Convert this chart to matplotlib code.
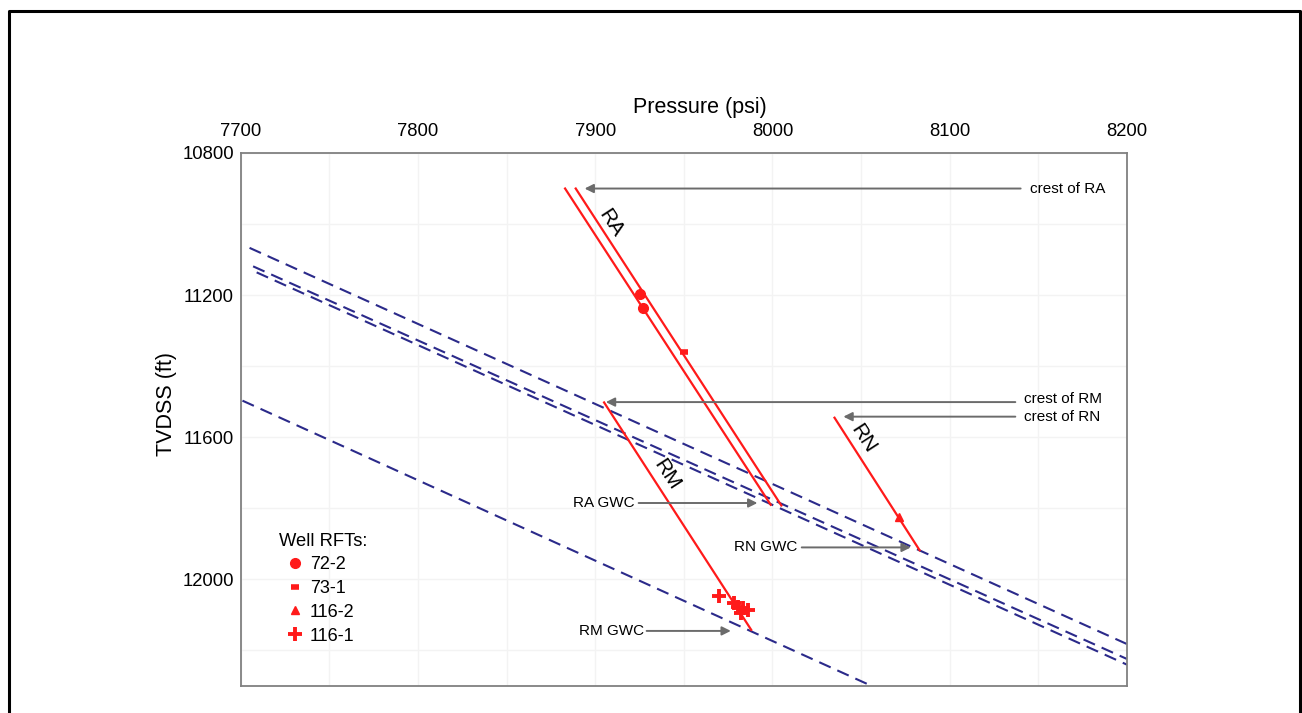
import matplotlib
matplotlib.use("Agg")
import matplotlib.pyplot as plt
from matplotlib.lines import Line2D
from matplotlib.ticker import MultipleLocator

plt.rcParams['font.family'] = ['Liberation Sans', 'DejaVu Sans']

# ---- data (pressure psi, depth ft TVDSS) ----
ra1_p = [7883, 7999]
ra1_d = [10900, 11790]
ra2_p = [7889, 8005]
ra2_d = [10900, 11792]
rm_p = [7905, 7988]
rm_d = [11502, 12142]
rn_p = [8035, 8083]
rn_d = [11545, 11918]

# water gradient lines
wa_p = [7705, 8200]
wa_d = [11067, 12182]
wb_p = [7707, 8200]
wb_d = [11119, 12224]
wc_p = [7709, 8200]
wc_d = [11136, 12240]
wd_p = [7701, 8056]
wd_d = [11497, 12300]

# well RFTs
w72_p = [7925, 7927]
w72_d = [11198, 11235]
w73_p = [7950]
w73_d = [11360]
w1162_p = [8071.5]
w1162_d = [11824]
w1161_p = [7970, 7978.5, 7980.7, 7983.5, 7986, 7982.2]
w1161_d = [12048, 12067, 12077, 12081, 12086, 12095]

# annotations
crest_labels = ["crest of RA", "crest of RM", "crest of RN"]
crest_text_p = [8145, 8142, 8142]
crest_text_d = [10900, 11493, 11542]
crest_tail_p = [8140, 8137, 8137]
crest_head_p = [7894, 7906, 8040]
crest_arrow_d = [10900, 11501, 11542]

gwc_labels = ["RA GWC", "RN GWC", "RM GWC"]
gwc_text_p = [7922.5, 8014, 7927.5]
gwc_tail_p = [7924.5, 8016.5, 7929]
gwc_head_p = [7991.5, 8078, 7976.5]
gwc_d = [11785, 11910, 12145]

zone_labels = ["RA", "RM", "RN"]
zone_p = [7908.7, 7940.5, 8051.2]
zone_d = [10997, 11705, 11603]

red = '#ff1a1a'
navy = '#2b2a8a'
arrow_gray = '#6b6b6b'

fig = plt.figure(figsize=(13.02, 7.13), dpi=100)
ax = fig.add_axes([0.18487, 0.03787, 0.68072, 0.74755])

ax.set_xlim(7700, 8200)
ax.set_ylim(12300, 10800)
ax.xaxis.set_major_locator(MultipleLocator(100))
ax.xaxis.set_minor_locator(MultipleLocator(50))
ax.yaxis.set_major_locator(MultipleLocator(400))
ax.yaxis.set_minor_locator(MultipleLocator(200))
ax.grid(True, which='both', color='#f3f3f3', lw=1.0)
ax.set_axisbelow(True)
ax.xaxis.tick_top()
ax.xaxis.set_label_position('top')
ax.tick_params(which='both', length=0)
ax.tick_params(axis='x', labelsize=13.3, pad=9)
ax.tick_params(axis='y', labelsize=13.3, pad=4.8)
for s in ax.spines.values():
    s.set_color('#808080')
    s.set_linewidth(1.3)

ax.set_xlabel('Pressure (psi)', fontsize=15.5)
ax.xaxis.set_label_coords(0.518, 1.075)
ax.set_ylabel('TVDSS (ft)', fontsize=15.5)
ax.yaxis.set_label_coords(-0.072, 0.53)

dash = (0, (6, 3.5))
for xp, yd in [(wa_p, wa_d), (wb_p, wb_d), (wc_p, wc_d), (wd_p, wd_d)]:
    ax.plot(xp, yd, color=navy, lw=1.5, linestyle=dash)

for xp, yd in [(ra1_p, ra1_d), (ra2_p, ra2_d), (rm_p, rm_d), (rn_p, rn_d)]:
    ax.plot(xp, yd, color=red, lw=1.6)

h1, = ax.plot(w72_p, w72_d, 'o', color=red, ms=7, ls='none', label='72-2')
h2, = ax.plot(w73_p, w73_d, '_', color=red, ms=6, mew=4, ls='none', label='73-1')
h3, = ax.plot(w1162_p, w1162_d, '^', color=red, ms=6, ls='none', label='116-2')
h4, = ax.plot(w1161_p, w1161_d, '+', color=red, ms=10, mew=2.8, ls='none', label='116-1')

arrow_kw = dict(arrowstyle='-|>', color=arrow_gray, lw=1.4, mutation_scale=13,
                shrinkA=0, shrinkB=0)
for lab, tp, td, tail, head, ad in zip(crest_labels, crest_text_p, crest_text_d,
                                       crest_tail_p, crest_head_p, crest_arrow_d):
    ax.annotate('', xy=(head, ad), xytext=(tail, ad), arrowprops=arrow_kw)
    ax.text(tp, td, lab, fontsize=11, ha='left', va='center')

for lab, tp, tail, head, ad in zip(gwc_labels, gwc_text_p, gwc_tail_p, gwc_head_p, gwc_d):
    ax.annotate('', xy=(head, ad), xytext=(tail, ad), arrowprops=arrow_kw)
    ax.text(tp, ad, lab, fontsize=11, ha='right', va='center')

for lab, zp, zd in zip(zone_labels, zone_p, zone_d):
    ax.text(zp, zd, lab, fontsize=15, rotation=-57, ha='center', va='center',
            rotation_mode='anchor')

fig.text(279 / 1302, 1 - 541 / 713, 'Well RFTs:', fontsize=13.2, ha='left', va='center')
ax.legend(handles=[h1, h2, h3, h4], loc='upper left',
          bbox_to_anchor=(288 / 1302, 1 - 556 / 713), bbox_transform=fig.transFigure,
          frameon=False, fontsize=13, handlelength=0.8, handletextpad=0.4,
          labelspacing=0.38, borderpad=0, borderaxespad=0, markerscale=1.0)

# outer black frame of the picture
fx0, fx1, fy1 = 8.7 / 1302, 1299.5 / 1302, 1 - 11.2 / 713
fig.add_artist(Line2D([fx0, fx0, fx1, fx1], [-0.05, fy1, fy1, -0.05],
                      transform=fig.transFigure, color='black', lw=2.2))

fig.savefig('out.png', dpi=100)
